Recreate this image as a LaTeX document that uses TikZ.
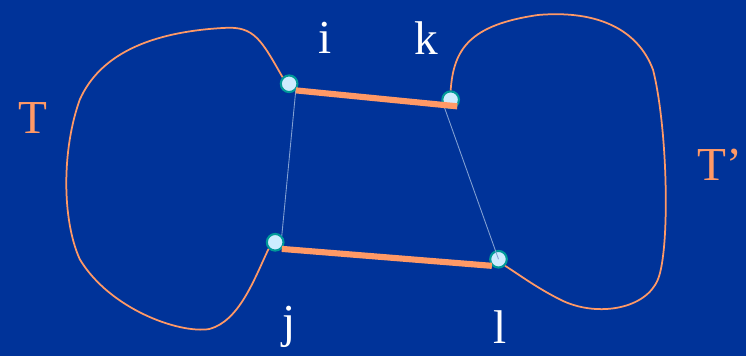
\documentclass[tikz,border=0pt]{standalone}
\usepackage{fontspec}
\setmainfont{Liberation Serif}
\usepackage{xcolor}
\definecolor{mybg}          {RGB}{0, 51, 153}
\definecolor{myo}           {RGB}{255, 153, 102}
\definecolor{myc}           {RGB}{204, 236, 255}
\definecolor{myt}           {RGB}{0, 153, 153}
\definecolor{myl}           {RGB}{130, 160, 210}
\usetikzlibrary{arrows.meta, positioning}

\begin{document}
\begin{tikzpicture}[x=0.02cm, y=-0.02cm, every node/.style={font=\fontsize{27}{27}\selectfont},
        pt/.style={circle, draw=myt, fill=myc, line width=1.2pt, minimum size=9.5pt, inner sep=0pt},
        bar/.style={myo, line width=3.5pt},
        tree/.style={myo, line width=1pt},
        link/.style={myl, line width=0.5pt}]
        \fill[mybg] (0,0) rectangle (748,357);
        \node[pt] (i) at (290, 84) {};
        \node[pt] (k) at (452, 100) {};
        \node[pt] (j) at (276, 243) {};
        \node[pt] (l) at (500, 260) {};
        \node[text=white] (labi) at (326, 38) {i};
        \node[text=white] (labk) at (428, 38) {k};
        \node[text=white] (labj) at (290, 328) {j};
        \node[text=white] (labl) at (502, 328) {l};
        \node[text=myo] (labT) at (33, 118) {T};
        \node[text=myo] (labTp) at (722, 165) {T’};
        % the two trees
        \draw[tree] (i.north west) .. controls (262, 40) and (255, 26) .. (225, 28)
            .. controls (150, 32) and (100, 55) .. (80, 100)
            .. controls (62, 150) and (62, 220) .. (80, 260)
            .. controls (110, 310) and (180, 335) .. (210, 330)
            .. controls (240, 322) and (255, 280) .. (j.south west);
        \draw[tree] (k.north) .. controls (455, 50) and (470, 25) .. (540, 15)
            .. controls (600, 10) and (640, 30) .. (655, 70)
            .. controls (670, 130) and (672, 250) .. (660, 280)
            .. controls (648, 310) and (600, 318) .. (565, 302)
            .. controls (540, 290) and (520, 275) .. (l.south east);
        \draw[link] (i.south east) -- (j.north east);
        \draw[link] (k.south west) -- (l.center);
        \draw[bar] (i.south east) -- (k.south east);
        \draw[bar] (j.south east) -- (l.south west);
    \end{tikzpicture}
\end{document}
